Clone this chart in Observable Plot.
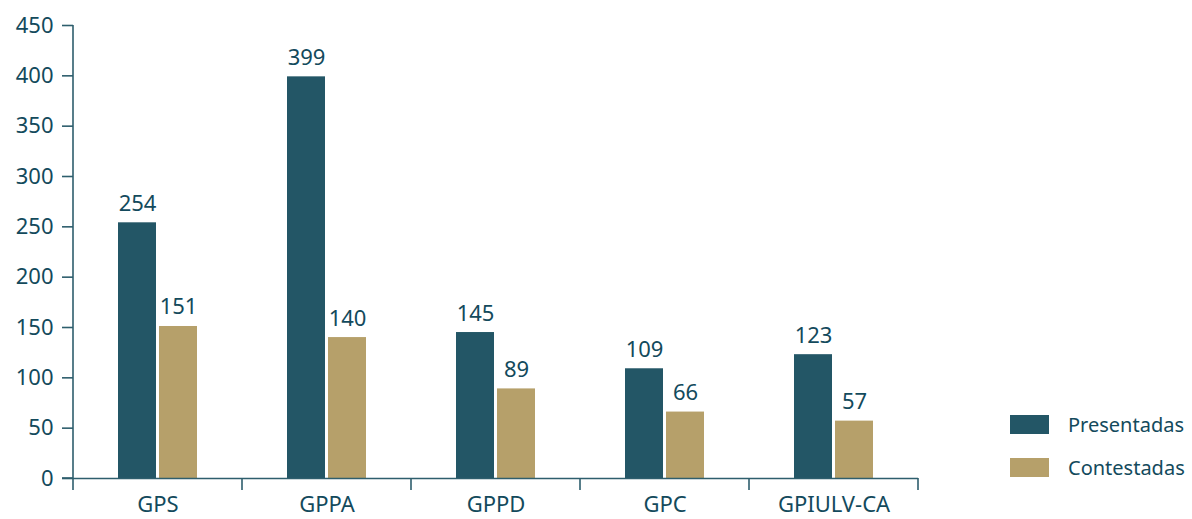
<!DOCTYPE html>
<html>
<head>
<meta charset="utf-8">
<script src="https://cdn.jsdelivr.net/npm/d3@7"></script>
<script src="https://cdn.jsdelivr.net/npm/@observablehq/plot@0.6"></script>
<style>
  html, body { margin: 0; padding: 0; background: #fff; }
  #wrap { position: relative; width: 1192px; height: 519px; font-family: "Noto Sans", "Open Sans", sans-serif; }
  #wrap svg text { font-size: 22px !important; }
  #legend { position: absolute; left: 1010px; top: 413px; color: #134a5c; font-size: 20px; }
  .item { display: flex; align-items: center; height: 22px; margin-bottom: 21px; }
  .sw { width: 39px; height: 19px; margin-right: 19px; }
</style>
</head>
<body>
<div id="wrap"><div id="legend"></div></div>
<script>
const groups = ["GPS", "GPPA", "GPPD", "GPC", "GPIULV-CA"];
const series = ["Presentadas", "Contestadas"];
const presentadas = [254, 399, 145, 109, 123];
const contestadas = [151, 140, 89, 66, 57];
const yTicks = [0, 50, 100, 150, 200, 250, 300, 350, 400, 450];
const colors = ["#235666", "#b6a06a"];
const textColor = "#134a5c";
const axisColor = "#2e5e6d";

const data = [];
groups.forEach((g, i) => {
  data.push({group: g, series: series[0], value: presentadas[i]});
  data.push({group: g, series: series[1], value: contestadas[i]});
});

const plot = Plot.plot({
  width: 1192,
  height: 519,
  marginLeft: 72,
  marginRight: 274,
  marginTop: 25,
  marginBottom: 41,
  style: {fontFamily: "'Noto Sans', 'Open Sans', sans-serif", fontSize: "22px", color: textColor, background: "#fff", overflow: "visible"},
  fx: {domain: groups, padding: 0, label: null},
  x: {domain: series, paddingInner: 0.07, paddingOuter: 1.05, axis: null},
  y: {domain: [0, 450], label: null},
  color: {domain: series, range: colors},
  marks: [
    Plot.axisY({ticks: yTicks, tickSize: 11, tickPadding: 9, stroke: axisColor, strokeWidth: 1.6, fill: textColor, label: null}),
    Plot.axisFx({anchor: "bottom", tickSize: 0, tickPadding: 18, fill: textColor, label: null}),
    Plot.barY(data, {fx: "group", x: "series", y: "value", fill: "series"}),
    Plot.text(data, {fx: "group", x: "series", y: "value", text: d => String(d.value), lineAnchor: "bottom", dy: -12, fill: textColor}),
    Plot.ruleY([0], {stroke: axisColor, strokeWidth: 1.6})
  ]
});

document.getElementById("wrap").prepend(plot);

// axis lines and group separator ticks, placed with the plot's own scales
const fx = plot.scale("fx");
const yS = plot.scale("y");
const svg = d3.select(plot.tagName.toLowerCase() === "svg" ? plot : plot.querySelector("svg"));
const y0 = yS.apply(0);
const yTop = yS.apply(yTicks[yTicks.length - 1]);
const edges = groups.map(g => fx.apply(g)).concat([fx.apply(groups[groups.length - 1]) + fx.bandwidth]);
const g = svg.append("g").attr("stroke", axisColor).attr("stroke-width", 1.6);
g.selectAll("line.sep").data(edges).join("line").attr("class", "sep")
  .attr("x1", d => d).attr("x2", d => d)
  .attr("y1", y0).attr("y2", y0 + 12);
g.append("line")
  .attr("x1", edges[0]).attr("x2", edges[0]).attr("y1", yTop).attr("y2", y0);
g.append("line")
  .attr("x1", edges[0] - 11).attr("x2", edges[0]).attr("y1", y0).attr("y2", y0);

const legend = d3.select("#legend");
series.forEach((s, i) => {
  const it = legend.append("div").attr("class", "item");
  it.append("div").attr("class", "sw").style("background", colors[i]);
  it.append("span").text(s);
});
</script>
</body>
</html>
